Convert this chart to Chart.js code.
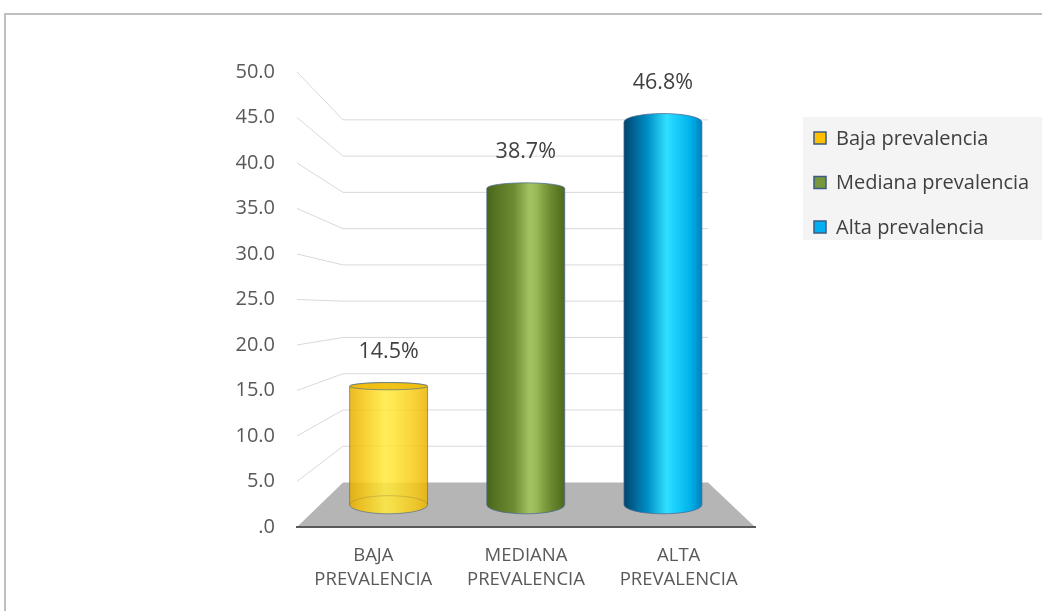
<!DOCTYPE html>
<html>
<head>
<meta charset="utf-8">
<script src="https://cdn.jsdelivr.net/npm/chart.js@4.4.1/dist/chart.umd.min.js"></script>
<style>
  html, body { margin: 0; padding: 0; background: #ffffff; }
  canvas { display: block; }
</style>
</head>
<body>
<canvas id="chart" width="1042" height="611"></canvas>
<script>
// ---- data ----
const categories = [['BAJA', 'PREVALENCIA'], ['MEDIANA', 'PREVALENCIA'], ['ALTA', 'PREVALENCIA']];
const seriesNames = ['Baja prevalencia', 'Mediana prevalencia', 'Alta prevalencia'];
const prevalence = [14.5, 38.7, 46.8];
const axisMin = 0;
const axisMax = 50;
const axisStep = 5;

// ---- styling ----
const FONT = '"Open Sans", "Noto Sans", sans-serif';
const swatchColors = ['#FFC000', '#77973D', '#00B0F0'];
const cylinderStops = [
  [[0, '#E6AE00'], [0.15, '#F4C30E'], [0.45, '#FFEA3C'], [0.55, '#FFE535'], [0.85, '#F6C815'], [1, '#E8B300']],
  [[0, '#4A651B'], [0.12, '#577423'], [0.35, '#6D8C31'], [0.55, '#A5C364'], [0.63, '#9AB958'], [0.82, '#6C8A2F'], [1, '#4D691D']],
  [[0, '#00466C'], [0.1, '#005C8C'], [0.3, '#008EC6'], [0.55, '#30E0FF'], [0.63, '#1ED3FF'], [0.85, '#00B3EA'], [1, '#0081BD']]
];
const capColors = ['#EEBB0C', '#7E9D3E', '#0FB5EC'];
const cylinderAlpha = [0.86, 1, 1];

// perspective of the 3-D box: vanishing point (fraction of plot area), back-wall scale, bar depth
const VANISH = { fx: 0.495, fy: 0.518 };
const BACK_SCALE = 0.797;
const BAR_DEPTH = 0.5;
const ELLIPSE_K = 0.046;

function projector(area) {
  const vx = area.left + VANISH.fx * (area.right - area.left);
  const vy = area.top + VANISH.fy * (area.bottom - area.top);
  return {
    vx, vy,
    at(x, y, depth) {
      const m = 1 - depth * (1 - BACK_SCALE);
      return { x: vx + m * (x - vx), y: vy + m * (y - vy), m };
    }
  };
}

const scene3d = {
  id: 'scene3d',
  beforeDraw(chart) {
    const { ctx, chartArea: a } = chart;
    const y = chart.scales.y;
    const P = projector(a);
    ctx.save();
    // outer frame
    ctx.strokeStyle = '#BFBFBF';
    ctx.lineWidth = 2;
    ctx.beginPath();
    ctx.moveTo(5, chart.height);
    ctx.lineTo(5, 14);
    ctx.lineTo(chart.width, 14);
    ctx.stroke();

    // floor
    const y0 = y.getPixelForValue(axisMin);
    const bl = P.at(a.left, y0, 1);
    const br = P.at(a.right, y0, 1);
    ctx.fillStyle = '#B5B5B5';
    ctx.beginPath();
    ctx.moveTo(a.left, y0);
    ctx.lineTo(a.right, y0);
    ctx.lineTo(br.x, br.y);
    ctx.lineTo(bl.x, bl.y);
    ctx.closePath();
    ctx.fill();

    // side-wall and back-wall gridlines
    ctx.strokeStyle = '#D9D9D9';
    ctx.lineWidth = 1;
    y.ticks.forEach(t => {
      if (t.value === axisMin) return;
      const yf = y.getPixelForValue(t.value);
      const b = P.at(a.left, yf, 1);
      const r = P.at(a.right, yf, 1);
      ctx.beginPath();
      ctx.moveTo(a.left, yf);
      ctx.lineTo(b.x, b.y);
      ctx.lineTo(r.x, b.y);
      ctx.stroke();
    });
    ctx.restore();
  },
  beforeDatasetsDraw(chart) {
    const { ctx, chartArea: a } = chart;
    const y = chart.scales.y;
    const P = projector(a);
    chart.data.datasets.forEach((ds, i) => {
      const meta = chart.getDatasetMeta(i);
      ds.data.forEach((v, j) => {
        if (v === null || v === undefined) return;
        const bar = meta.data[j].getProps(['x', 'width'], true);
        const base = P.at(bar.x, y.getPixelForValue(axisMin), BAR_DEPTH);
        const top = P.at(bar.x, y.getPixelForValue(v), BAR_DEPTH);
        const cx = base.x;
        const rx = bar.width * base.m / 2;
        const ryB = ELLIPSE_K * (base.y - P.vy);
        const ryT = ELLIPSE_K * (top.y - P.vy);
        const yb = base.y, yt = top.y;

        ctx.save();
        ctx.globalAlpha = cylinderAlpha[i];
        const g = ctx.createLinearGradient(cx - rx, 0, cx + rx, 0);
        cylinderStops[i].forEach(s => g.addColorStop(s[0], s[1]));

        // body silhouette
        ctx.beginPath();
        ctx.moveTo(cx - rx, yt);
        ctx.lineTo(cx - rx, yb);
        ctx.ellipse(cx, yb, rx, Math.abs(ryB), 0, Math.PI, 0, true);
        ctx.lineTo(cx + rx, yt);
        ctx.ellipse(cx, yt, rx, Math.max(Math.abs(ryT), 0.5), 0, 0, Math.PI, true);
        ctx.closePath();
        ctx.fillStyle = g;
        ctx.fill();
        ctx.strokeStyle = 'rgba(75,105,145,0.75)';
        ctx.lineWidth = 1;
        ctx.stroke();

        // rear rim of the base shows through translucent cylinders
        if (cylinderAlpha[i] < 1) {
          ctx.beginPath();
          ctx.ellipse(cx, yb, rx, Math.abs(ryB), 0, Math.PI, 2 * Math.PI, false);
          ctx.strokeStyle = 'rgba(120,110,60,0.35)';
          ctx.stroke();
        }

        // cap, visible when the top is below eye level
        if (ryT > 0.5) {
          ctx.beginPath();
          ctx.ellipse(cx, yt, rx, ryT, 0, 0, 2 * Math.PI);
          ctx.fillStyle = capColors[i];
          ctx.fill();
          ctx.strokeStyle = 'rgba(75,105,145,0.75)';
          ctx.stroke();
        }
        ctx.restore();

        // value label
        ctx.save();
        ctx.font = '21.5px ' + FONT;
        ctx.fillStyle = '#404040';
        ctx.textAlign = 'center';
        ctx.textBaseline = 'middle';
        ctx.fillText(v.toFixed(1) + '%', cx, yt - Math.abs(ryT) - 31);
        ctx.restore();
      });
    });
    return false;
  },
  afterDraw(chart) {
    const { ctx } = chart;
    const box = { x: 803, y: 117, w: chart.width - 803, h: 123 };
    ctx.save();
    ctx.fillStyle = '#F4F4F4';
    ctx.fillRect(box.x, box.y, box.w, box.h);
    ctx.font = '20px ' + FONT;
    ctx.textBaseline = 'middle';
    chart.data.datasets.forEach((ds, i) => {
      const cy = 138 + i * 44.5;
      ctx.fillStyle = ds.backgroundColor;
      ctx.fillRect(814, cy - 6, 12, 12);
      ctx.strokeStyle = ds.borderColor;
      ctx.lineWidth = 1.5;
      ctx.strokeRect(814, cy - 6, 12, 12);
      ctx.fillStyle = '#404040';
      ctx.fillText(ds.label, 836, cy + 1);
    });
    ctx.restore();
  }
};

const datasets = seriesNames.map((name, i) => ({
  label: name,
  data: prevalence.map((v, j) => (j === i ? v : null)),
  backgroundColor: swatchColors[i],
  borderColor: '#3C5A82',
  categoryPercentage: 0.8,
  barPercentage: 0.71
}));

new Chart(document.getElementById('chart'), {
  type: 'bar',
  data: { labels: categories, datasets },
  options: {
    responsive: false,
    animation: false,
    devicePixelRatio: 1,
    skipNull: true,
    layout: { padding: { left: 200, top: 72, right: 287, bottom: 0 } },
    plugins: { legend: { display: false }, tooltip: { enabled: false } },
    scales: {
      x: {
        grid: { display: false, drawTicks: false },
        border: { display: true, color: '#595959', width: 2 },
        ticks: {
          padding: 17,
          color: '#595959',
          font: { family: FONT, size: 18.5, lineHeight: 1.3 }
        },
        afterFit(scale) { scale.height = 84; }
      },
      y: {
        min: axisMin,
        max: axisMax,
        grid: { display: false, drawTicks: false },
        border: { display: false },
        ticks: {
          stepSize: axisStep,
          padding: 22,
          color: '#595959',
          font: { family: FONT, size: 20 },
          callback: v => (v === 0 ? '.0' : v.toFixed(1))
        },
        afterFit(scale) { scale.width = 97; }
      }
    }
  },
  plugins: [scene3d]
});
</script>
</body>
</html>
